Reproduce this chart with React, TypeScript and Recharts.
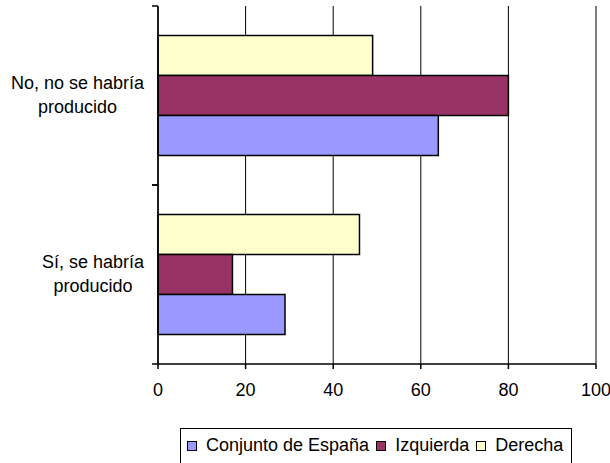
import React from "react";
import { BarChart, Bar, XAxis, YAxis, CartesianGrid, Legend } from "recharts";

const categories = ["No, no se habría\nproducido", "Sí, se habría\nproducido"];
const conjuntoEspana = [64, 29];
const izquierda = [80, 17];
const derecha = [49, 46];
const xTicks = [0, 20, 40, 60, 80, 100];

const seriesNames = ["Conjunto de España", "Izquierda", "Derecha"];
const seriesColors = ["#9999FF", "#993366", "#FFFFCC"];

const data = categories.map((name, i) => ({
  name,
  conjunto: conjuntoEspana[i],
  izquierda: izquierda[i],
  derecha: derecha[i],
}));

const FONT = "'Liberation Sans', Arial, sans-serif";

function measure(text: string, size: number): number {
  if (typeof document === "undefined") return text.length * size * 0.5;
  const ns = "http://www.w3.org/2000/svg";
  const svg = document.createElementNS(ns, "svg");
  svg.setAttribute("style", "position:absolute;left:-9999px;top:-9999px");
  const t = document.createElementNS(ns, "text");
  t.setAttribute("font-family", FONT);
  t.setAttribute("font-size", String(size));
  t.textContent = text;
  svg.appendChild(t);
  document.body.appendChild(svg);
  const w = (t as any).getComputedTextLength();
  document.body.removeChild(svg);
  return w;
}

const CategoryTick = (props: any) => {
  const { x, y, payload } = props;
  const lines: string[] = String(payload.value).split("\n");
  const size = 18;
  const widths = lines.map((l) => measure(l, size));
  const blockW = Math.max(...widths);
  const right = x - 14;
  const cx = right - blockW / 2;
  const half = payload.offset || 0;
  return (
    <g>
      <line x1={x - 6} x2={x} y1={y - half} y2={y - half} stroke="#000" strokeWidth={1.5} />
      <line x1={x - 6} x2={x} y1={y + half} y2={y + half} stroke="#000" strokeWidth={1.5} />
      {lines.map((l, i) => (
        <text
          key={i}
          x={cx}
          y={y - 7 + i * 24.5}
          textAnchor="middle"
          fontFamily={FONT}
          fontSize={size}
          fill="#000"
        >
          {l}
        </text>
      ))}
    </g>
  );
};

const LegendBox = () => (
  <div
    style={{
      border: "1px solid #000",
      background: "#fff",
      height: 40,
      boxSizing: "border-box",
      display: "inline-flex",
      alignItems: "flex-start",
      paddingLeft: 6,
      paddingRight: 1,
      paddingTop: 6,
      fontFamily: FONT,
      fontSize: 18,
      color: "#000",
      whiteSpace: "nowrap",
    }}
  >
    {seriesNames.map((n, i) => (
      <span key={n} style={{ display: "flex", alignItems: "center", marginRight: 7 }}>
        <span
          style={{
            display: "inline-block",
            width: 10,
            height: 10,
            boxSizing: "border-box",
            border: "1.5px solid #000",
            background: seriesColors[i],
            marginRight: 9,
          }}
        />
        <span>{n}</span>
      </span>
    ))}
  </div>
);

export default function App() {
  return (
    <div style={{ position: "absolute", left: 0, top: 0, width: 610, height: 463, background: "#fff", overflow: "hidden" }}>
      <BarChart
        width={610}
        height={463}
        data={data}
        layout="vertical"
        margin={{ top: 6, right: 14, left: 0, bottom: 69 }}
        barGap={0}
        barCategoryGap="16.5%"
      >
        <CartesianGrid horizontal={false} vertical={true} stroke="#000" strokeOpacity={1} />
        <XAxis
          type="number"
          domain={[0, 100]}
          ticks={xTicks}
          interval={0}
          height={30}
          axisLine={{ stroke: "#000", strokeWidth: 1.5 }}
          tickLine={{ stroke: "#000", strokeWidth: 1.5 }}
          tickSize={5}
          tickMargin={14}
          tick={{ fontFamily: FONT, fontSize: 18, fill: "#000" }}
        />
        <XAxis
          xAxisId="top"
          orientation="top"
          type="number"
          domain={[0, 100]}
          height={0}
          tick={false}
          tickLine={false}
          axisLine={{ stroke: "#999", strokeWidth: 1.5 }}
        />
        <YAxis
          type="category"
          dataKey="name"
          width={158}
          axisLine={{ stroke: "#000", strokeWidth: 1.5 }}
          tickLine={false}
          tickSize={0}
          tickMargin={0}
          tick={<CategoryTick />}
          interval={0}
        />
        <YAxis
          yAxisId="right"
          orientation="right"
          type="category"
          dataKey="name"
          width={0}
          tick={false}
          tickLine={false}
          axisLine={{ stroke: "#808080", strokeWidth: 2 }}
        />
        <Legend
          layout="horizontal"
          verticalAlign="middle"
          align="center"
          content={() => <LegendBox />}
          wrapperStyle={{ left: 180, top: 428, width: 420, height: 40 }}
        />
        <Bar dataKey="derecha" name={seriesNames[2]} fill={seriesColors[2]} stroke="#000" strokeWidth={1.5} isAnimationActive={false} />
        <Bar dataKey="izquierda" name={seriesNames[1]} fill={seriesColors[1]} stroke="#000" strokeWidth={1.5} isAnimationActive={false} />
        <Bar dataKey="conjunto" name={seriesNames[0]} fill={seriesColors[0]} stroke="#000" strokeWidth={1.5} isAnimationActive={false} />
      </BarChart>
    </div>
  );
}
